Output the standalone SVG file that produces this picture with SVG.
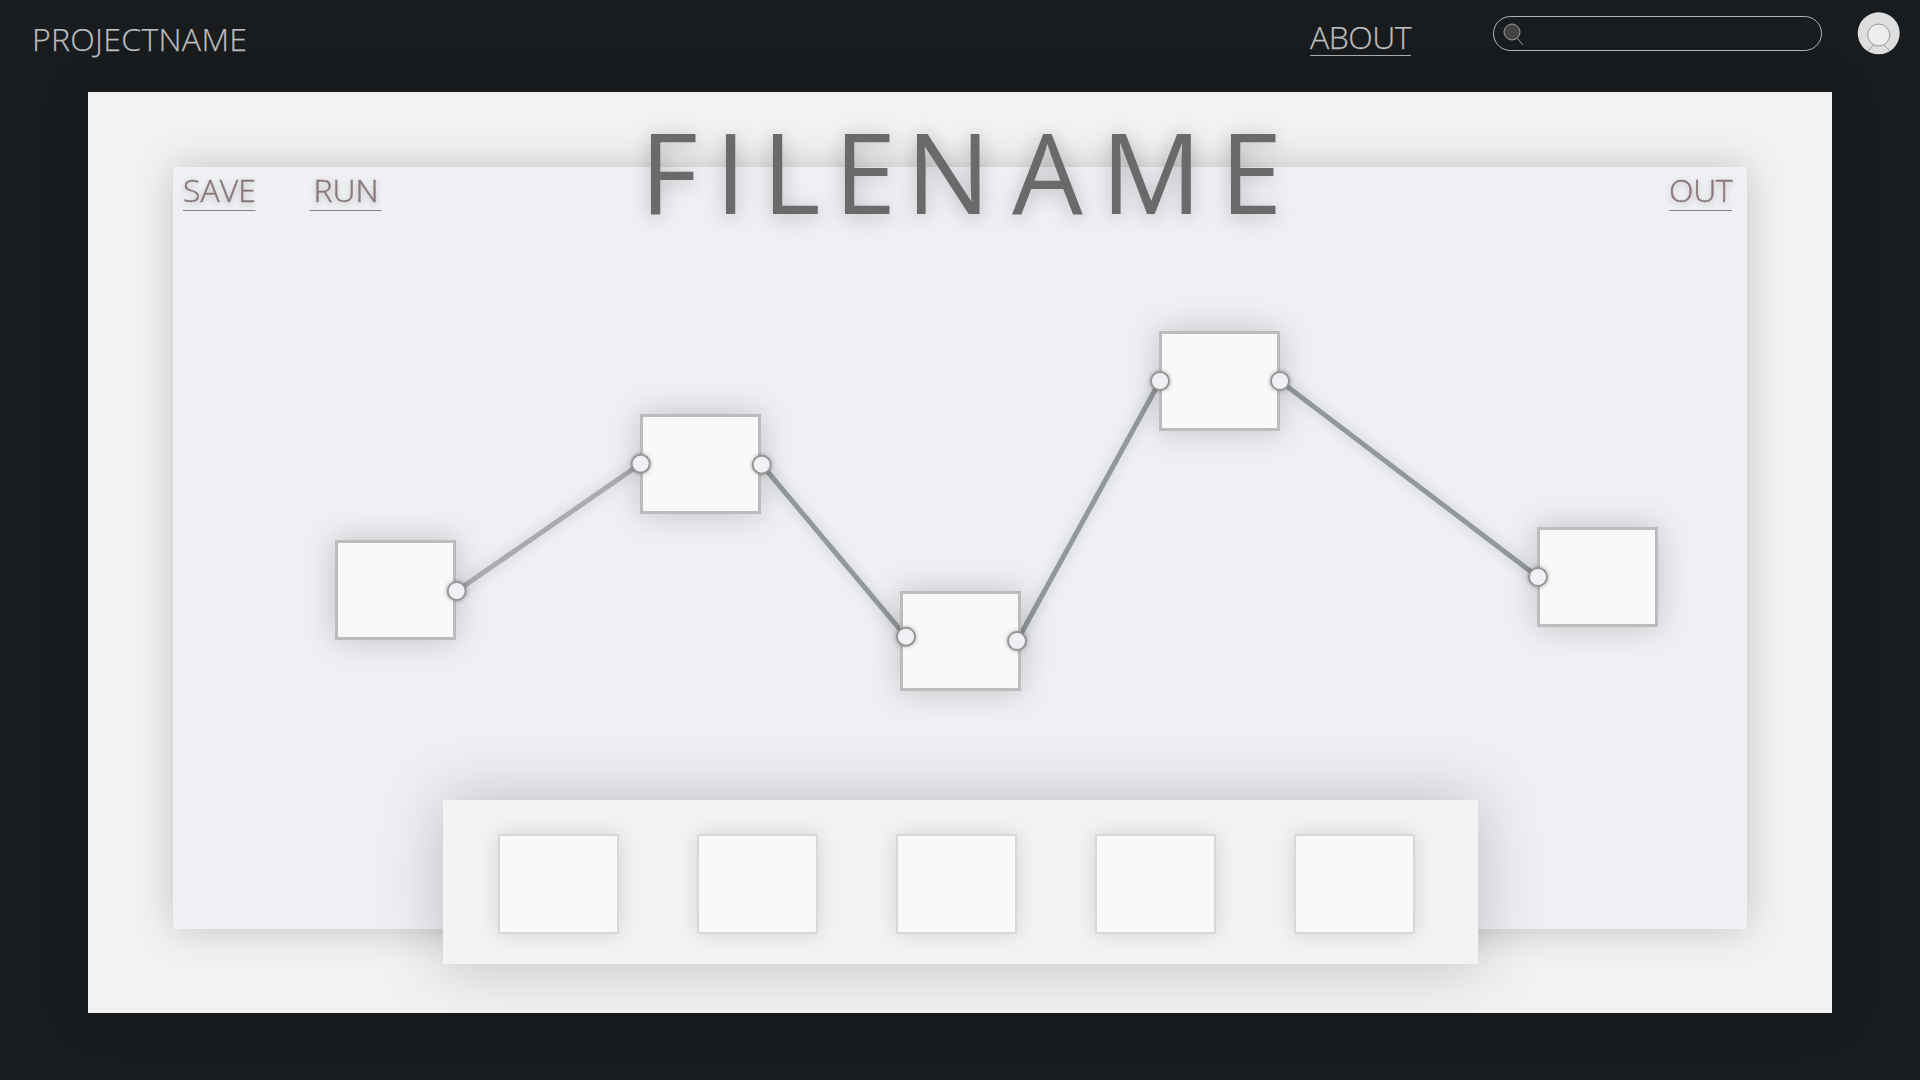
<svg xmlns="http://www.w3.org/2000/svg" width="1920" height="1080" viewBox="0 0 1920 1080">
<style>
text{font-family:"Open Sans","Noto Sans","Liberation Sans",sans-serif;font-weight:300}
filter{color-interpolation-filters:sRGB}
.nav{font-size:32px;fill:#bcbcbc;stroke:#bcbcbc;stroke-width:.25}
.act{font-size:32px;fill:#8a7878;stroke:#8a7878;stroke-width:.45;filter:url(#ts)}
.node{fill:#f9f9f9;stroke:#bcbcbc;stroke-width:3;filter:url(#ns)}
.slot{fill:#f9f9f9;stroke:#d6d8dc;stroke-width:2;filter:url(#ss)}
.port{fill:#eef0f4;stroke:#969696;stroke-width:2;filter:url(#ps)}
.ul{stroke-width:1}
.wire{fill:none;stroke:#94989a;stroke-width:5}
</style>
<defs>
<filter id="pg" x="-10%" y="-15%" width="120%" height="130%"><feDropShadow dx="0" dy="0" stdDeviation="25" flood-color="#000" flood-opacity=".08"/></filter>
<filter id="pan" x="-15%" y="-25%" width="130%" height="150%"><feDropShadow dx="0" dy="0" stdDeviation="18" flood-color="#000" flood-opacity=".2"/></filter>
<filter id="pal" x="-20%" y="-100%" width="140%" height="300%"><feDropShadow dx="0" dy="0" stdDeviation="32" flood-color="#000" flood-opacity=".22"/></filter>
<filter id="ns" x="-60%" y="-60%" width="220%" height="220%"><feDropShadow dx="0" dy="0" stdDeviation="16" flood-color="#000" flood-opacity=".2"/></filter>
<filter id="ss" x="-50%" y="-50%" width="200%" height="200%"><feDropShadow dx="0" dy="0" stdDeviation="11" flood-color="#000" flood-opacity=".13"/></filter>
<filter id="ps" x="-50%" y="-50%" width="200%" height="200%"><feDropShadow dx="0" dy="0" stdDeviation="2" flood-color="#000" flood-opacity=".3"/></filter>
<filter id="ws" x="-10%" y="-10%" width="120%" height="120%"><feDropShadow dx="0" dy="0" stdDeviation="7" flood-color="#000" flood-opacity=".18"/></filter>
<filter id="ts" x="-20%" y="-50%" width="140%" height="200%"><feDropShadow dx="0" dy="2" stdDeviation="3" flood-color="#000" flood-opacity=".22"/></filter>
<filter id="tb" x="-20%" y="-50%" width="140%" height="200%"><feDropShadow dx="0" dy="3" stdDeviation="10" flood-color="#000" flood-opacity=".25"/></filter>
<clipPath id="av"><circle cx="1878.700" cy="33.300" r="21"/></clipPath>
</defs>
<rect width="1920" height="1080" fill="#181c1f"/>
<g id="header">
<text class="nav" x="32" y="51" letter-spacing=".3">PROJECTNAME</text>
<text class="nav" x="1310" y="49" letter-spacing="-.5">ABOUT</text>
<line class="ul" x1="1310" y1="55.500" x2="1411" y2="55.500" stroke="#aaa"/>
</g>
<g id="search"><rect x="1493.500" y="16.500" width="328" height="34" rx="17" fill="none" stroke="#b4b4b4"/>
<circle cx="1512" cy="32" r="8" fill="#444" stroke="#999"/><line x1="1517" y1="38" x2="1523" y2="45" stroke="#999"/></g>
<g id="avatar"><circle cx="1878.700" cy="33.300" r="21" fill="#dedede"/>
<g clip-path="url(#av)"><line x1="1868" y1="51" x2="1873.500" y2="45" stroke="#999"/><line x1="1890" y1="51" x2="1884" y2="45" stroke="#999"/></g>
<circle cx="1878.700" cy="35" r="11" fill="#eee" stroke="#999"/></g>
<rect id="page" x="88" y="92" width="1744" height="921" fill="#f2f2f2" filter="url(#pg)"/>
<rect id="canvas" x="173" y="167" width="1574" height="762" fill="#eef0f4" filter="url(#pan)"/>
<text id="title" filter="url(#tb)" fill="#6a6a6a" y="214" style="font-size:112px;font-weight:400" x="640 715 762 834 906 1012 1101 1220">FILENAME</text>
<g id="save"><text class="act" x="183" y="202">SAVE</text><line class="ul" x1="183" y1="210.500" x2="255.500" y2="210.500" stroke="#8f8080"/></g>
<g id="run"><text class="act" x="313.500" y="202">RUN</text><line class="ul" x1="309.500" y1="210.500" x2="381.500" y2="210.500" stroke="#8f8080"/></g>
<g id="out"><text class="act" x="1669" y="202" letter-spacing="-.3">OUT</text><line class="ul" x1="1669" y1="210.500" x2="1732" y2="210.500" stroke="#8f8080"/></g>
<g id="connectors" filter="url(#ws)">
<line class="wire" x1="456.700" y1="591" x2="640.700" y2="463.700" style="stroke:#a9abad"/>
<line class="wire" x1="761.700" y1="464.700" x2="906" y2="636.700"/>
<line class="wire" x1="1017" y1="641" x2="1160" y2="381"/>
<line class="wire" x1="1280" y1="381" x2="1538" y2="577"/>
</g>
<g id="n1"><rect class="node" x="336.500" y="541.500" width="118" height="97"/><circle class="port" cx="456.700" cy="591" r="9"/></g>
<g id="n2"><rect class="node" x="641.500" y="415.500" width="118" height="97"/><circle class="port" cx="640.700" cy="463.700" r="9"/><circle class="port" cx="761.700" cy="464.700" r="9"/></g>
<g id="n3"><rect class="node" x="901.500" y="592.500" width="118" height="97"/><circle class="port" cx="906" cy="636.700" r="9"/><circle class="port" cx="1017" cy="641" r="9"/></g>
<g id="n4"><rect class="node" x="1160.500" y="332.500" width="118" height="97"/><circle class="port" cx="1160" cy="381" r="9"/><circle class="port" cx="1280" cy="381" r="9"/></g>
<g id="n5"><rect class="node" x="1538.500" y="528.500" width="118" height="97"/><circle class="port" cx="1538" cy="577" r="9"/></g>
<g id="palette"><rect x="443" y="800" width="1035" height="164" fill="#f2f4f4" filter="url(#pal)"/>
<rect id="s1" class="slot" x="499" y="835" width="119" height="98"/>
<rect id="s2" class="slot" x="698" y="835" width="119" height="98"/>
<rect id="s3" class="slot" x="897" y="835" width="119" height="98"/>
<rect id="s4" class="slot" x="1096" y="835" width="119" height="98"/>
<rect id="s5" class="slot" x="1295" y="835" width="119" height="98"/></g>
</svg>
